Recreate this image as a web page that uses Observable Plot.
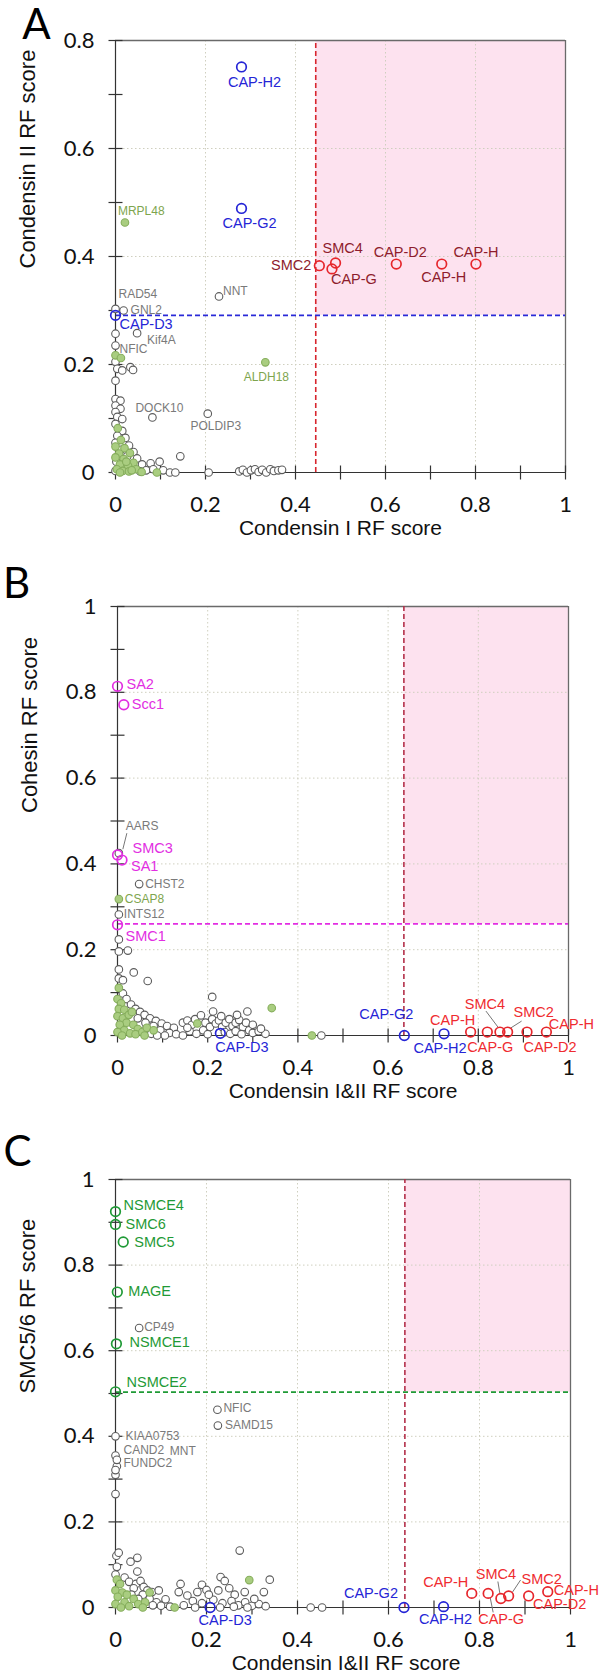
<!DOCTYPE html>
<html><head><meta charset="utf-8">
<script src="https://cdn.jsdelivr.net/npm/d3@7"></script>
<script src="https://cdn.jsdelivr.net/npm/@observablehq/plot@0.6"></script>
<style>
body{margin:0;background:#fff;}
#chart{width:600px;position:relative;}
#chart svg{display:block;overflow:visible;}
</style></head><body><div id="chart"></div>
<script>
// ---------------- tick values ----------------
const xTickLabels = [0, 0.2, 0.4, 0.6, 0.8, 1];
const xMinorTicks = [0, 0.1, 0.2, 0.3, 0.4, 0.5, 0.6, 0.7, 0.8, 0.9, 1];
const yTickLabelsA = [0, 0.2, 0.4, 0.6, 0.8];
const yMinorTicksA = [0, 0.1, 0.2, 0.3, 0.4, 0.5, 0.6, 0.7, 0.8];
const yTickLabelsBC = [0, 0.2, 0.4, 0.6, 0.8, 1];
const yMinorTicksBC = [0, 0.1, 0.2, 0.3, 0.4, 0.5, 0.6, 0.7, 0.8, 0.9, 1];
const gridVals = [0.2, 0.4, 0.6, 0.8];

// ---------------- panel A data ----------------
const aThreshold = [0.445, 0.291]; // [condensin I, condensin II]
const aGenes = [
  ["CAP-H2", 0.280, 0.751, "blue"], ["CAP-G2", 0.280, 0.489, "blue"], ["CAP-D3", 0.000, 0.291, "blue"],
  ["SMC2", 0.453, 0.383, "red"], ["SMC4", 0.489, 0.388, "red"], ["CAP-G", 0.481, 0.377, "red"],
  ["CAP-D2", 0.624, 0.386, "red"], ["CAP-H", 0.725, 0.386, "red"], ["CAP-H", 0.801, 0.386, "red"],
  ["MRPL48", 0.021, 0.463, "green"], ["ALDH18", 0.333, 0.204, "green"],
  ["NNT", 0.230, 0.326, "gray"], ["RAD54", 0.000, 0.303, "gray"], ["GNL2", 0.018, 0.300, "gray"],
  ["Kif4A", 0.048, 0.258, "gray"], ["NFIC", 0.000, 0.235, "gray"], ["DOCK10", 0.082, 0.102, "gray"],
  ["POLDIP3", 0.205, 0.109, "gray"]
];
const aGray = [
  [0,0.257],[0,0.205],[0.004,0.192],[0.015,0.189],[0.033,0.195],[0.039,0.19],[0,0.17],[0,0.136],
  [0.011,0.133],[0,0.124],[0.011,0.118],[0,0.112],[0.004,0.103],[0.015,0.099],
  [0,0.09],[0.015,0.077],[0.004,0.068],[0.022,0.064],[0,0.055],[0.03,0.05],[0.012,0.042],[0.04,0.038],
  [0.026,0.03],[0.048,0.026],[0.059,0.015],[0.078,0.017],[0.098,0.02],[0.144,0.03],[0.106,0.004],
  [0.121,0],[0.133,0],[0.068,0.004],[0.084,0.006],[0.055,0.002],[0.038,0.008],[0.002,0.02],[0,0.003],
  [0.207,0],[0.275,0.002],[0.283,0.005],[0.292,0],[0.301,0.004],[0.31,0.006],[0.318,0.001],[0.326,0.005],
  [0.335,0],[0.344,0.006],[0.352,0.003],[0.362,0.004],[0.37,0.005]
];
const aGreen = [
  [0,0.217],[0.012,0.212],
  [0.005,0.082],[0.012,0.06],[0,0.048],[0.02,0.045],[0.008,0.035],[0.032,0.036],[0.018,0.025],[0,0.028],
  [0.04,0.018],[0.01,0.015],[0.028,0.012],[0.003,0.006],[0.016,0.003],[0.03,0.002],[0.046,0.006],
  [0.058,0.001],[0.092,0],[0.024,0.02],[0.036,0.004],[0.01,0]
];

// ---------------- panel B data ----------------
const bThreshold = [0.635, 0.26]; // [condensin I&II, cohesin]
const bGenes = [
  ["SA2", 0.000, 0.814, "magenta"], ["Scc1", 0.014, 0.771, "magenta"], ["SMC3", 0.000, 0.421, "magenta"],
  ["SA1", 0.010, 0.409, "magenta"], ["SMC1", 0.000, 0.258, "magenta"],
  ["AARS", 0.003, 0.425, "gray"], ["CHST2", 0.048, 0.353, "gray"], ["CSAP8", 0.003, 0.318, "green"],
  ["INTS12", 0.003, 0.282, "gray"],
  ["CAP-D3", 0.228, 0.005, "blue"], ["CAP-G2", 0.636, 0.000, "blue"], ["CAP-H2", 0.724, 0.004, "blue"],
  ["CAP-H", 0.783, 0.008, "red"], ["CAP-G", 0.820, 0.008, "red"], ["SMC4", 0.848, 0.008, "red"],
  ["SMC2", 0.865, 0.008, "red"], ["CAP-D2", 0.908, 0.008, "red"], ["CAP-H", 0.951, 0.008, "red"]
];
const bGray = [
  [0.003,0.224],[0.003,0.196],[0.023,0.198],[0.003,0.154],[0.036,0.147],[0.067,0.127],[0.003,0.133],[0.012,0.129],
  [0.012,0.098],[0.02,0.085],[0.03,0.072],[0.04,0.062],[0.05,0.055],[0.06,0.048],[0.072,0.04],[0.085,0.034],
  [0.098,0.028],[0.11,0.022],[0.125,0.018],[0.045,0.04],[0.062,0.03],[0.08,0.022],[0.095,0.012],[0.115,0.006],
  [0.13,0.003],[0.145,0],[0.06,0.012],[0.075,0.004],[0.088,0],[0.105,0],
  [0.145,0.03],[0.155,0.035],[0.165,0.025],[0.172,0.038],[0.185,0.047],[0.195,0.03],[0.205,0.02],[0.21,0.038],
  [0.218,0.028],[0.225,0.035],[0.232,0.02],[0.24,0.03],[0.248,0.038],[0.255,0.022],[0.262,0.03],[0.27,0.036],
  [0.278,0.02],[0.285,0.03],[0.292,0.012],[0.3,0.025],[0.16,0.01],[0.175,0.004],[0.19,0.012],[0.2,0.003],
  [0.238,0.008],[0.25,0.004],[0.262,0.01],[0.275,0.003],[0.3,0.006],[0.313,0.01],[0.328,0.004],[0.155,0.018],
  [0.21,0.09],[0.212,0.056],[0.288,0.056],[0.23,0.045],[0.265,0.048],[0.318,0.016],[0.452,0]
];
const bGreen = [
  [0.003,0.111],[0,0.085],[0.008,0.075],[0.003,0.062],[0.015,0.06],[0,0.045],[0.012,0.04],[0.025,0.048],
  [0.02,0.03],[0.005,0.025],[0.035,0.025],[0.045,0.015],[0.015,0.012],[0,0.008],[0.028,0.005],[0.04,0.003],
  [0.055,0.008],[0.065,0.018],[0.08,0.012],[0.01,0],[0.06,0],[0.032,0.055],[0.177,0.028],[0.342,0.064],[0.431,0]
];

// ---------------- panel C data ----------------
const cThreshold = [0.636, 0.503]; // [condensin I&II, SMC5/6]
const cGenes = [
  ["NSMCE4", 0.000, 0.925, "dkgreen"], ["SMC6", 0.000, 0.895, "dkgreen"], ["SMC5", 0.017, 0.854, "dkgreen"],
  ["MAGE", 0.004, 0.737, "dkgreen"], ["NSMCE1", 0.002, 0.616, "dkgreen"], ["NSMCE2", 0.000, 0.504, "dkgreen"],
  ["CP49", 0.052, 0.653, "gray"], ["NFIC", 0.224, 0.462, "gray"], ["SAMD15", 0.225, 0.425, "gray"],
  ["KIAA0753", 0.000, 0.400, "gray"], ["CAND2", 0.000, 0.355, "gray"], ["MNT", 0.003, 0.345, "gray"],
  ["FUNDC2", 0.000, 0.321, "gray"],
  ["CAP-D3", 0.208, 0.000, "blue"], ["CAP-G2", 0.634, 0.000, "blue"], ["CAP-H2", 0.721, 0.002, "blue"],
  ["CAP-H", 0.783, 0.033, "red"], ["CAP-G", 0.819, 0.033, "red"], ["SMC4", 0.847, 0.021, "red"],
  ["SMC2", 0.864, 0.027, "red"], ["CAP-D2", 0.908, 0.027, "red"], ["CAP-H", 0.950, 0.037, "red"]
];
const cGray = [
  [0,0.265],[0.002,0.121],[0.007,0.128],[0.033,0.107],[0.048,0.116],[0.048,0.084],[0,0.077],[0.003,0.095],
  [0.02,0.07],[0.03,0.06],[0.045,0.055],[0.055,0.062],[0.062,0.048],[0.07,0.04],[0.04,0.045],[0.08,0.036],
  [0.095,0.04],[0.11,0.019],[0.06,0.03],[0.075,0.02],[0.09,0.012],[0.1,0.004],[0.12,0.002],[0.05,0.02],
  [0.035,0.03],[0.082,0.005],
  [0.143,0.055],[0.139,0.036],[0.158,0.028],[0.18,0.036],[0.19,0.053],[0.2,0.041],[0.231,0.071],[0.24,0.062],
  [0.226,0.04],[0.25,0.045],[0.262,0.03],[0.284,0.036],[0.326,0.036],[0.339,0.065],[0.273,0.133],[0.17,0.015],
  [0.19,0.01],[0.215,0.018],[0.235,0.01],[0.255,0.015],[0.27,0.005],[0.285,0.012],[0.3,0.004],[0.315,0.008],
  [0.15,0.005],[0.175,0],[0.23,0],[0.26,0.002],[0.29,0],[0.33,0.003],[0.205,0.03],[0.305,0.02],[0.429,0],[0.454,0],
  [0.003,0.33],[0,0.31]
];
const cGreen = [
  [0.003,0.065],[0.01,0.055],[0,0.04],[0.015,0.035],[0.005,0.025],[0.025,0.03],[0.04,0.02],[0.02,0.012],
  [0,0.008],[0.03,0.003],[0.05,0.008],[0.065,0.012],[0.06,0],[0.075,0.035],[0.012,0],[0.13,0],[0.294,0.064]
];

// ---------------- styles (label offsets in px, not data) ----------------
const aPlace = [[13,15,"middle"],[8,15,"middle"],[4,9,"start"],[-8,0,"end"],[-13,-15,"start"],[-1,10,"start"],
  [4,-12,"middle"],[2,13,"middle"],[0,-12,"middle"],[-7,-11,"start"],[1,15,"middle"],[4,-5,"start"],
  [3,-15,"start"],[7,0,"start"],[10,7,"start"],[4,4,"start"],[7,-9,"middle"],[8,13,"middle"]];
const bPlace = [[9,-2,"start"],[8,0,"start"],[15,-7,"start"],[9,6,"start"],[8,12,"start"],[7,-27,"start"],
  [6,0,"start"],[6,0,"start"],[5,0,"start"],[-5,14,"start"],[-18,-21,"middle"],[-4,15,"middle"],
  [-18,-12,"middle"],[3,15,"middle"],[-15,-28,"middle"],[26,-20,"middle"],[23,15,"middle"],[25,-8,"middle"]];
const cPlace = [[8,-6,"start"],[10,0,"start"],[11,0,"start"],[11,-1,"start"],[13,-1,"start"],[11,-9,"start"],
  [5,-1,"start"],[6,-2,"start"],[7,0,"start"],[10,0,"start"],[8,-5,"start"],[53,-9,"start"],[8,-7,"start"],
  [15,13,"middle"],[-33,-14,"middle"],[2,13,"middle"],[-26,-11,"middle"],[13,26,"middle"],[-5,-24,"middle"],
  [33,-17,"middle"],[31,8,"middle"],[6,-1,"start"]];
const bLeaders = [[5,4,-4,8,-20],[14,-2,-5,-14,-21],[15,3,-4,14,-11]];
const cLeaders = [[17,2,4,5,19],[18,-1,-5,-3,-17],[19,4,-4,12,-16]];

const LABEL_FONT = "'Liberation Sans', Arial, sans-serif";
const TICK_FONT = "Lato, 'Open Sans', sans-serif";
const fmt = d => String(+d.toFixed(1));

function groupStyle(g, panel) {
  switch (g) {
    case "blue": return {stroke: "#2525d6", label: "#2525d6", size: 14.5, r: 4.8};
    case "red": return {stroke: "#e6262c", label: panel === "A" ? "#8e1c2c" : "#ef2b30", size: 14.5, r: 4.8};
    case "magenta": return {stroke: "#e22ee2", label: "#e22ee2", size: 14.5, r: 4.8};
    case "dkgreen": return {stroke: "#1f9a36", label: "#1f9a36", size: 14.5, r: 4.8};
    case "green": return {stroke: "#86ae5c", fill: "#a9cd80", label: "#7ea54e", size: 12, r: 3.8};
    default: return {stroke: "#5c5c5c", fill: "white", label: "#7a7a7a", size: 12, r: 3.8};
  }
}

function line(x1, y1, x2, y2) { return {draw(ctx) { ctx.moveTo(x1, y1); ctx.lineTo(x2, y2); }}; }
const hTick = line(-7, 0, 7, 0);
const vTick = line(0, -7, 0, 7);

function panel(p) {
  const [thrX, thrY] = p.threshold;
  const marks = [];
  marks.push(Plot.rect([{x1: thrX, x2: 1, y1: thrY, y2: p.ymax}], {x1: "x1", x2: "x2", y1: "y1", y2: "y2", fill: "#fde2ef"}));
  marks.push(Plot.ruleX(gridVals, {stroke: "#cfcfbf", strokeDasharray: "1.5,2.5"}));
  marks.push(Plot.ruleY(gridVals.filter(v => v < p.ymax), {stroke: "#cfcfbf", strokeDasharray: "1.5,2.5"}));
  marks.push(Plot.ruleY([p.ymax], {stroke: "#6a6a6a", strokeWidth: 1.3}));
  marks.push(Plot.ruleX([1], {stroke: "#6a6a6a", strokeWidth: 1.3}));
  marks.push(Plot.ruleX([thrX], {y1: 0, y2: p.ymax, stroke: p.vColor, strokeWidth: 1.6, strokeDasharray: "5,3"}));
  marks.push(Plot.ruleY([thrY], {x1: 0, x2: 1, stroke: p.hColor, strokeWidth: 1.8, strokeDasharray: "5,3"}));
  marks.push(Plot.ruleX([0], {stroke: "#333", strokeWidth: 1.2}));
  marks.push(Plot.ruleY([0], {x1: 0, x2: 1, stroke: "#333", strokeWidth: 1.2}));
  marks.push(Plot.dot(p.yMinor.map(v => ({x: 0, y: v})), {x: "x", y: "y", symbol: hTick, stroke: "#333", fill: "none", strokeWidth: 1.2}));
  marks.push(Plot.dot(xMinorTicks.map(v => ({x: v, y: 0})), {x: "x", y: "y", symbol: vTick, stroke: "#333", fill: "none", strokeWidth: 1.2}));
  marks.push(Plot.dot(p.gray, {x: d => d[0], y: d => d[1], r: 3.8, stroke: "#5c5c5c", strokeWidth: 1.1, fill: "white"}));
  marks.push(Plot.dot(p.green, {x: d => d[0], y: d => d[1], r: 3.8, stroke: "#86ae5c", strokeWidth: 1.1, fill: "#a9cd80"}));
  for (const [i, x1, y1, x2, y2] of (p.leaders || [])) {
    const g = p.genes[i];
    marks.push(Plot.dot([g], {x: d => d[1], y: d => d[2], symbol: line(x1, y1, x2, y2), stroke: "#777", strokeWidth: 1, fill: "none"}));
  }
  const order = p.genes.map((g, i) => i).sort((a, b) => (groupStyle(p.genes[a][3]).r - groupStyle(p.genes[b][3]).r));
  for (const i of order) {
    const g = p.genes[i];
    const s = groupStyle(g[3], p.name);
    const big = s.r > 4;
    marks.push(Plot.dot([g], {x: d => d[1], y: d => d[2], r: s.r, stroke: s.stroke, strokeWidth: big ? 1.7 : 1.1, fill: big ? "none" : s.fill}));
  }
  p.genes.forEach((g, i) => {
    const s = groupStyle(g[3], p.name);
    const [dx, dy, anchor] = p.place[i];
    marks.push(Plot.text([g], {x: d => d[1], y: d => d[2], text: d => d[0], dx, dy, textAnchor: anchor, lineAnchor: "middle",
      fill: s.label, fontSize: s.size, fontFamily: LABEL_FONT}));
  });
  marks.push(Plot.text([p.yTitle], {text: d => d, frameAnchor: "left", dx: -88, dy: p.yTitleDy, rotate: -90,
    fontSize: 22, fontFamily: LABEL_FONT, fill: "#111"}));
  marks.push(Plot.text([p.xTitle], {text: d => d, frameAnchor: "bottom", dy: 62, dx: p.xTitleDx,
    fontSize: 21, fontFamily: LABEL_FONT, fill: "#111"}));
  marks.push(Plot.text([p.name], {text: d => d, frameAnchor: "top-left", dx: p.letter[0], dy: p.letter[1],
    fontSize: 42, fontFamily: TICK_FONT, fill: "#000", lineAnchor: "middle", textAnchor: "middle"}));

  return Plot.plot({
    width: 600, height: p.height,
    marginLeft: p.m[0], marginRight: p.m[1], marginTop: p.m[2], marginBottom: p.m[3],
    style: {fontFamily: TICK_FONT, fontSize: "22px", color: "#111", background: "transparent", overflow: "visible"},
    x: {domain: [0, 1], ticks: xTickLabels, tickSize: 0, tickPadding: 24, tickFormat: fmt, label: null},
    y: {domain: [0, p.ymax], ticks: p.yLabels, tickSize: 0, tickPadding: 21, tickFormat: fmt, label: null},
    marks
  });
}

const chart = document.getElementById("chart");
chart.append(panel({name: "A", ymax: 0.8, threshold: aThreshold, genes: aGenes, place: aPlace, gray: aGray, green: aGreen,
  vColor: "#d8262e", hColor: "#2a2ad8", yLabels: yTickLabelsA, yMinor: yMinorTicksA,
  yTitle: "Condensin II RF score", xTitle: "Condensin I RF score", yTitleDy: 12, xTitleDx: 0,
  height: 545, m: [115, 35, 40, 73], letter: [-79, -15]}));
chart.append(panel({name: "B", ymax: 1, threshold: bThreshold, genes: bGenes, place: bPlace, gray: bGray, green: bGreen,
  leaders: bLeaders, vColor: "#b3304a", hColor: "#e22ee2", yLabels: yTickLabelsBC, yMinor: yMinorTicksBC,
  yTitle: "Cohesin RF score", xTitle: "Condensin I&II RF score", yTitleDy: -8, xTitleDx: 0,
  height: 560, m: [117, 32, 61, 70], letter: [-101, -22]}));
chart.append(panel({name: "C", ymax: 1, threshold: cThreshold, genes: cGenes, place: cPlace, gray: cGray, green: cGreen,
  leaders: cLeaders, vColor: "#b3304a", hColor: "#1f9a36", yLabels: yTickLabelsBC, yMinor: yMinorTicksBC,
  yTitle: "SMC5/6 RF score", xTitle: "Condensin I&II RF score", yTitleDy: 0, xTitleDx: 3,
  height: 571, m: [115, 30, 74, 69], letter: [-98, -27]}));
</script></body></html>
